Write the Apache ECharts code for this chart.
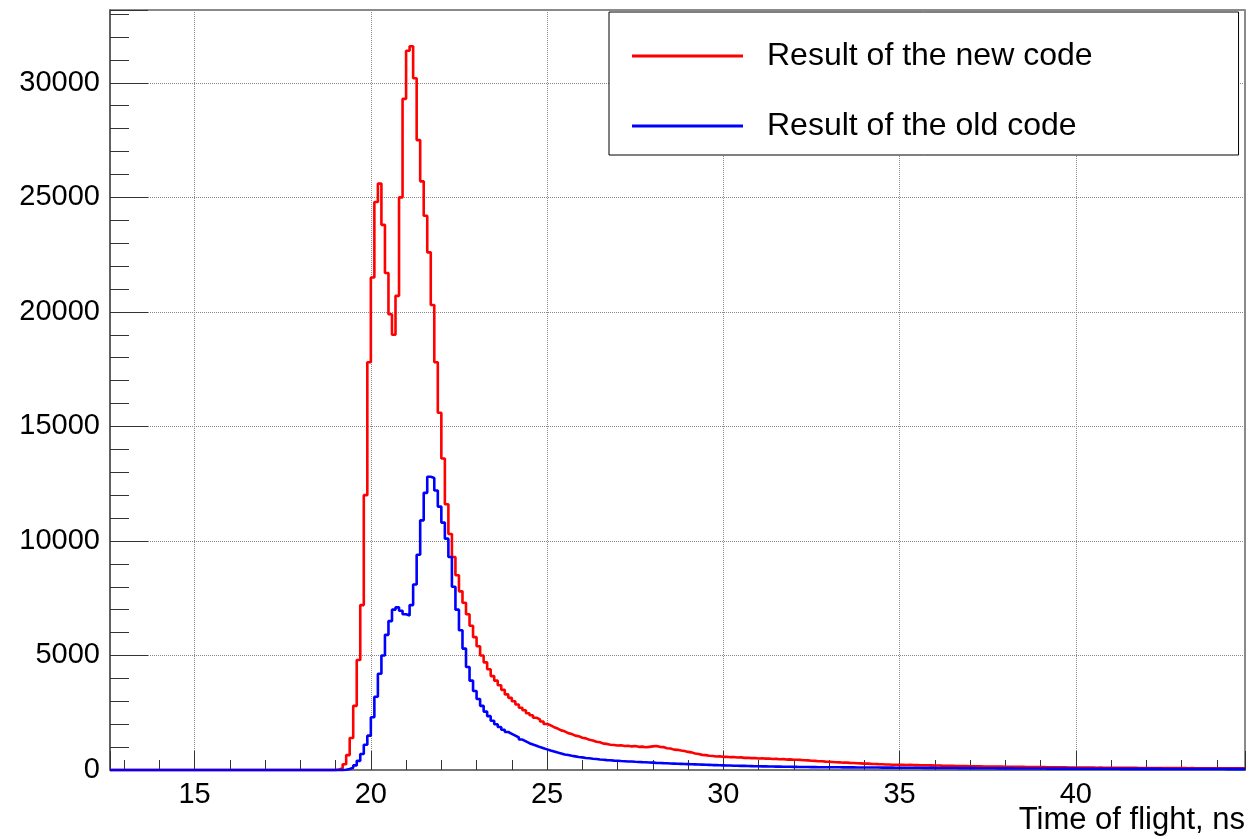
<!DOCTYPE html>
<html>
<head>
<meta charset="utf-8">
<title>Time of flight</title>
<script src="https://cdn.jsdelivr.net/npm/echarts@6/dist/echarts.min.js"></script>
<style>
  html, body { margin: 0; padding: 0; background: #fff; }
  #chart { width: 1250px; height: 839px; }
</style>
</head>
<body>
<div id="chart"></div>
<script>
const seriesNames = ['Result of the new code', 'Result of the old code']
const axisTitle = 'Time of flight, ns'
const tofMin = 12.6
const tofMax = 44.8
// histogram bins, 0.1 ns wide, first bin starts at 19.0 ns (empty before that)
const binStart = 19.0
const binWidth = 0.1

// counts per bin, one row per nanosecond
const newCode = [
  20, 80, 250, 650, 1400, 2800, 4800, 7200, 12000, 17800,
  21500, 24800, 25600, 23800, 21700, 19900, 19000, 20700, 25000, 29300,
  31400, 31600, 30200, 27500, 25700, 24200, 22600, 20300, 17800, 15600,
  13600, 11600, 10300, 9300, 8500, 7800, 7300, 6800, 6300, 5800,
  5400, 5000, 4700, 4400, 4100, 3900, 3700, 3500, 3300, 3150,
  3000, 2860, 2720, 2610, 2480, 2390, 2280, 2210, 2120, 2010,
  1950, 1870, 1810, 1730, 1690, 1610, 1570, 1500, 1470, 1410,
  1380, 1320, 1290, 1230, 1210, 1150, 1140, 1100, 1090, 1070,
  1080, 1050, 1060, 1030, 1050, 1010, 1020, 990, 1010, 1030,
  1050, 1010, 1000, 950, 940, 890, 880, 850, 830, 790,
  770, 720, 700, 660, 650, 620, 610, 590, 595, 575,
  580, 560, 565, 545, 550, 530, 535, 520, 525, 505,
  515, 495, 500, 480, 485, 470, 475, 455, 465, 450,
  445, 440, 425, 420, 405, 400, 385, 380, 365, 360,
  350, 340, 335, 320, 322, 310, 305, 295, 290, 280,
  278, 268, 262, 255, 250, 242, 240, 232, 232, 225,
  225, 220, 222, 215, 214, 210, 210, 205, 203, 198,
  196, 190, 188, 182, 180, 176, 174, 170, 170, 165,
  165, 160, 160, 156, 155, 152, 152, 148, 148, 144,
  145, 140, 141, 136, 137, 132, 133, 128, 129, 125,
  126, 122, 122, 118, 118, 116, 115, 112, 112, 109,
  110, 106, 107, 104, 104, 101, 102, 99, 100, 97,
  98, 95, 96, 93, 94, 92, 92, 89, 90, 88,
  89, 86, 87, 84, 86, 83, 84, 81, 83, 80,
  81, 78, 80, 77, 78, 76, 77, 74, 76, 73,
  74, 72, 73, 70, 72, 70, 71, 69
]
const oldCode = [
  0, 0, 10, 40, 100, 200, 400, 700, 1100, 1500,
  2300, 3200, 4200, 5000, 5900, 6500, 7000, 7100, 6950, 6800,
  6750, 7200, 8100, 9400, 10900, 12100, 12800, 12750, 12200, 11500,
  10800, 10100, 9300, 8000, 7000, 6100, 5300, 4500, 3900, 3450,
  3100, 2800, 2550, 2350, 2150, 2000, 1880, 1760, 1660, 1580,
  1500, 1420, 1330, 1250, 1170, 1110, 1060, 1000, 950, 900,
  850, 805, 760, 725, 680, 655, 620, 595, 565, 550,
  525, 510, 490, 480, 460, 450, 430, 425, 410, 405,
  390, 385, 372, 368, 358, 352, 342, 338, 328, 322,
  313, 308, 300, 295, 285, 280, 272, 268, 260, 256,
  248, 245, 238, 234, 226, 222, 215, 212, 205, 202,
  196, 194, 188, 186, 180, 178, 172, 170, 165, 163,
  159, 157, 153, 151, 147, 146, 143, 142, 139, 138,
  135, 134, 131, 130, 127, 126, 123, 123, 121, 120,
  119, 118, 117, 116, 115, 114, 113, 112, 111, 110,
  109, 108, 107, 106, 105, 104, 103, 102, 101, 100,
  100, 99, 98, 97, 96, 95, 94, 93, 92, 91,
  90, 89, 88, 87, 86, 85, 84, 83, 82, 81,
  80, 79, 78, 77, 76, 75, 74, 73, 72, 71,
  70, 69, 68, 68, 67, 66, 66, 65, 64, 64,
  63, 62, 62, 61, 60, 60, 59, 59, 58, 58,
  57, 57, 56, 56, 55, 55, 54, 54, 53, 53,
  52, 52, 51, 51, 50, 50, 50, 49, 49, 48,
  48, 48, 47, 47, 46, 46, 46, 45, 45, 45,
  44, 44, 44, 43, 43, 43, 42, 42, 42, 41,
  41, 41, 40, 40, 40, 39, 39, 39
]

const font = "'Liberation Sans', Arial, Helvetica, sans-serif"

// lower bin edges -> step line points, closed at the upper edge of the last bin
function toSteps (counts) {
  const pts = [[tofMin, 0]]
  counts.forEach((c, i) => {
    pts.push([+(binStart + i * binWidth).toFixed(2), c])
  })
  pts.push([+(binStart + counts.length * binWidth).toFixed(2), counts[counts.length - 1]])
  return pts
}

const chart = echarts.init(document.getElementById('chart'))

const option = {
  animation: false,
  backgroundColor: '#fff',
  textStyle: { fontFamily: font },
  // x axis title, right aligned under the axis end like ROOT does it
  title: {
    text: axisTitle,
    right: 5,
    top: 805,
    padding: 0,
    textStyle: { fontFamily: font, fontSize: 31, fontWeight: 'normal', color: '#000' }
  },
  grid: {
    left: 110,
    right: 5,
    top: 10,
    bottom: 69,
    containLabel: false,
    outerBoundsMode: 'none',
    show: true,
    borderColor: '#666',
    borderWidth: 1.5
  },
  legend: {
    orient: 'vertical',
    left: 609,
    top: 12,
    padding: [28, 146, 13, 23],
    itemGap: 38,
    itemWidth: 111,
    itemHeight: 3,
    icon: 'rect',
    backgroundColor: '#fff',
    borderColor: '#000',
    borderWidth: 1,
    borderRadius: 0,
    textStyle: {
      fontFamily: font,
      fontSize: 32,
      color: '#000',
      padding: [0, 0, 0, 19]
    },
    data: seriesNames
  },
  xAxis: {
    type: 'value',
    min: tofMin,
    max: tofMax,
    splitNumber: 6,
    axisLine: { show: true, lineStyle: { color: '#777', width: 2 } },
    axisTick: { show: true, inside: true, length: 19, lineStyle: { color: '#333' } },
    minorTick: { show: true, splitNumber: 5, length: 10, lineStyle: { color: '#333' } },
    splitLine: { show: true, lineStyle: { type: 'dotted', color: '#888', width: 1 } },
    axisLabel: {
      fontFamily: font,
      fontSize: 29,
      color: '#000',
      margin: 10,
      showMinLabel: false,
      showMaxLabel: false
    }
  },
  yAxis: {
    type: 'value',
    min: 0,
    max: 33180,
    interval: 5000,
    axisLine: { show: true, lineStyle: { color: '#555', width: 1.5 } },
    axisTick: { show: true, inside: true, length: 38, lineStyle: { color: '#333' } },
    minorTick: { show: true, splitNumber: 5, length: 19, lineStyle: { color: '#333' } },
    splitLine: { show: true, lineStyle: { type: 'dotted', color: '#888', width: 1 } },
    axisLabel: {
      fontFamily: font,
      fontSize: 29,
      color: '#000',
      margin: 10,
      showMaxLabel: false,
      formatter: v => String(v)
    }
  },
  series: [
    {
      name: seriesNames[0],
      type: 'line',
      step: 'end',
      symbol: 'none',
      clip: false,
      lineStyle: { color: '#ff0000', width: 2.6 },
      itemStyle: { color: '#ff0000' },
      data: toSteps(newCode)
    },
    {
      name: seriesNames[1],
      type: 'line',
      step: 'end',
      symbol: 'none',
      clip: false,
      lineStyle: { color: '#0000ff', width: 2.6 },
      itemStyle: { color: '#0000ff' },
      data: toSteps(oldCode)
    }
  ]
}

chart.setOption(option)
</script>
</body>
</html>
